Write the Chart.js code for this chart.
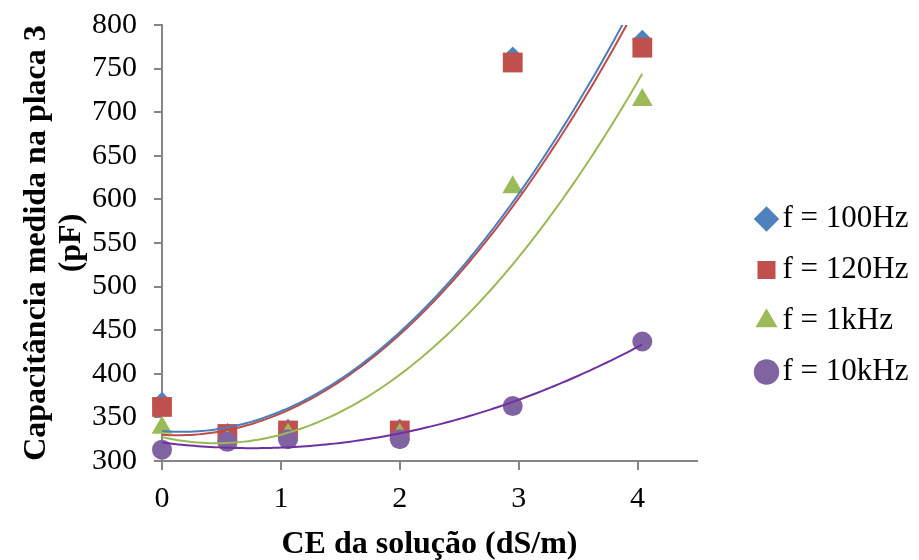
<!DOCTYPE html>
<html>
<head>
<meta charset="utf-8">
<script src="https://cdn.jsdelivr.net/npm/chart.js@4/dist/chart.umd.min.js"></script>
<style>
  body { margin: 0; background: #fff; }
  #wrap { width: 919px; height: 560px; position: relative; }
</style>
</head>
<body>
<div id="wrap"><canvas id="chart"></canvas></div>
<script>
// electrical conductivity of the solution (dS/m)
const ceValues = [0, 0.55, 1.06, 2.0, 2.95, 4.04];

// measured capacitance (pF) at each frequency
const cap100Hz = [368, 332, 337, 337, 764, 783];
const cap120Hz = [362, 331, 335, 335, 757, 774];
const cap1kHz  = [338, 323, 330, 330, 614, 714];
const cap10kHz = [313, 322, 325, 325, 363, 437];

const seriesNames = ['f = 100Hz', 'f = 120Hz', 'f = 1kHz', 'f = 10kHz'];
const xTicks = [0, 1, 2, 3, 4];
const yTicks = [300, 350, 400, 450, 500, 550, 600, 650, 700, 750, 800];

const pointColors = ['#4f81bd', '#c0504d', '#9bbb59', '#8064a2'];
const lineColors  = ['#4a7ebb', '#be4b48', '#98b954', '#7030a0'];
const pointStyles = ['rectRot', 'rect', 'triangle', 'circle'];
const pointSizes  = [10, 14, 12, 10];

const serif = '"Liberation Serif", "Times New Roman", serif';
const axisGray = '#868686';

// least squares fit of y = a + b*x + c*x^2
function polyFit2(xs, ys) {
  const s = [0, 0, 0, 0, 0], t = [0, 0, 0];
  xs.forEach((x, i) => {
    let p = 1;
    for (let k = 0; k < 5; k++) {
      s[k] += p;
      if (k < 3) t[k] += p * ys[i];
      p *= x;
    }
  });
  const m = [
    [s[0], s[1], s[2], t[0]],
    [s[1], s[2], s[3], t[1]],
    [s[2], s[3], s[4], t[2]]
  ];
  for (let i = 0; i < 3; i++) {
    for (let j = i + 1; j < 3; j++) {
      const f = m[j][i] / m[i][i];
      for (let k = i; k < 4; k++) m[j][k] -= f * m[i][k];
    }
  }
  const c = [0, 0, 0];
  for (let i = 2; i >= 0; i--) {
    let v = m[i][3];
    for (let k = i + 1; k < 3; k++) v -= m[i][k] * c[k];
    c[i] = v / m[i][i];
  }
  return c;
}

function trendPoints(xs, ys) {
  const [a, b, c] = polyFit2(xs, ys);
  const x0 = xs[0], x1 = xs[xs.length - 1];
  const pts = [];
  for (let i = 0; i <= 120; i++) {
    const x = x0 + (x1 - x0) * i / 120;
    pts.push({ x, y: a + b * x + c * x * x });
  }
  return pts;
}

const series = [cap100Hz, cap120Hz, cap1kHz, cap10kHz];

// markers are drawn whole even on the y axis, so no clipping here
const pointSets = series.map((ys, i) => ({
  label: seriesNames[i],
  data: ceValues.map((x, j) => ({ x, y: ys[j] })),
  pointStyle: pointStyles[i],
  pointRadius: pointSizes[i],
  pointHoverRadius: pointSizes[i],
  backgroundColor: pointColors[i],
  borderColor: pointColors[i],
  borderWidth: 0,
  showLine: false,
  clip: false,
  order: 4 - i
}));

const trendSets = series.map((ys, i) => ({
  label: 'trend ' + seriesNames[i],
  data: trendPoints(ceValues, ys),
  showLine: true,
  pointRadius: 0,
  borderColor: lineColors[i],
  borderWidth: 2,
  tension: 0,
  order: 0
}));

// the legend sits a bit away from the plot, like the spreadsheet layout
const legendShift = {
  id: 'legendShift',
  afterLayout(chart, args, opts) {
    const lg = chart.legend;
    if (!lg) return;
    lg.left += opts.dx; lg.right += opts.dx;
    lg.top += opts.dy; lg.bottom += opts.dy;
  }
};

new Chart(document.getElementById('chart'), {
  type: 'scatter',
  data: { datasets: [...pointSets, ...trendSets] },
  plugins: [legendShift],
  options: {
    responsive: true,
    maintainAspectRatio: false,
    animation: false,
    layout: { padding: { top: 25, left: 0, right: 0, bottom: 0 } },
    plugins: {
      tooltip: { enabled: false },
      legendShift: { dx: 49, dy: 3 },
      legend: {
        position: 'right',
        labels: {
          usePointStyle: true,
          boxHeight: 18,
          boxWidth: 1,
          padding: 20,
          color: '#000',
          font: { family: serif, size: 31 },
          filter: item => item.datasetIndex < seriesNames.length,
          sort: (a, b) => a.datasetIndex - b.datasetIndex
        }
      }
    },
    scales: {
      x: {
        type: 'linear',
        min: 0,
        max: 4.5,
        afterBuildTicks: scale => { scale.ticks = xTicks.map(v => ({ value: v })); },
        afterFit: scale => { scale.height = 99; scale.paddingRight = 222; },
        border: { color: axisGray, width: 2 },
        grid: { drawOnChartArea: false, color: axisGray, lineWidth: 2, tickLength: 9 },
        ticks: { color: '#000', font: { family: serif, size: 30 }, padding: 11 },
        title: {
          display: true,
          text: 'CE da solução (dS/m)',
          color: '#000',
          font: { family: serif, size: 32, weight: 'bold' },
          padding: { top: 0, bottom: -4 }
        }
      },
      y: {
        type: 'linear',
        min: 300,
        max: 800,
        afterBuildTicks: scale => { scale.ticks = yTicks.map(v => ({ value: v })); },
        afterFit: scale => { scale.width = 162; scale.paddingTop = 0; scale.paddingBottom = 0; },
        border: { color: axisGray, width: 2 },
        grid: { drawOnChartArea: false, color: axisGray, lineWidth: 2, tickLength: 8 },
        ticks: { color: '#000', font: { family: serif, size: 30 }, padding: 17 },
        title: {
          display: true,
          text: ['Capacitância medida na placa 3', '(pF)'],
          color: '#000',
          font: { family: serif, size: 32, weight: 'bold', lineHeight: 1.1 },
          padding: { top: 19, bottom: 0 }
        }
      }
    }
  }
});
</script>
</body>
</html>
